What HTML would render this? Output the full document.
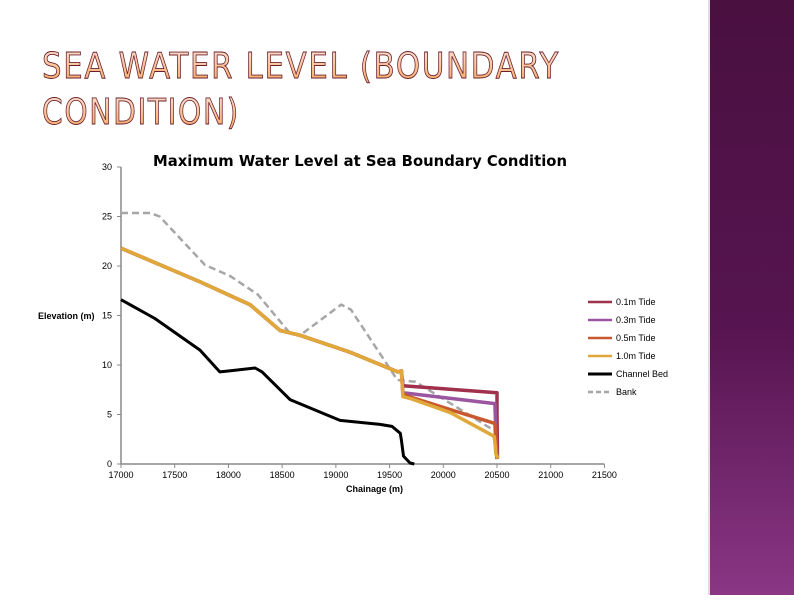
<!DOCTYPE html>
<html><head><meta charset="utf-8"><style>
body{margin:0;width:794px;height:595px;overflow:hidden;background:#fff;font-family:"Liberation Sans",sans-serif}
</style></head><body>
<svg width="794" height="595" xmlns="http://www.w3.org/2000/svg">
<defs>
<linearGradient id="tg" x1="0" y1="0" x2="0" y2="1"><stop offset="0" stop-color="#fde3d6"/><stop offset="1" stop-color="#f5a55a"/></linearGradient>
<linearGradient id="pg" x1="0" y1="0" x2="0" y2="1"><stop offset="0" stop-color="#4a1040"/><stop offset="0.55" stop-color="#561450"/><stop offset="1" stop-color="#8a3684"/></linearGradient>
</defs>
<rect x="708" y="0" width="86" height="595" fill="url(#pg)"/>
<rect x="708" y="0" width="2" height="595" fill="#e8d8e4"/>
<g font-family="'DejaVu Sans',sans-serif" font-size="36" fill="url(#tg)" stroke="#6a1e2e" stroke-width="0.9" letter-spacing="2">
<text x="42" y="78" textLength="518" lengthAdjust="spacingAndGlyphs">SEA WATER LEVEL (BOUNDARY</text>
<text x="42" y="124" textLength="198" lengthAdjust="spacingAndGlyphs">CONDITION)</text>
</g>
<text x="153" y="166" font-size="15.5" font-weight="bold" font-family="'DejaVu Sans',sans-serif" textLength="414" lengthAdjust="spacingAndGlyphs">Maximum Water Level at Sea Boundary Condition</text>
<g id="chart"></g>
</svg>
<script>
const xTicks=[17000,17500,18000,18500,19000,19500,20000,20500,21000,21500];
const yTicks=[0,5,10,15,20,25,30];
const seriesNames=["0.1m Tide","0.3m Tide","0.5m Tide","1.0m Tide","Channel Bed","Bank"];
const seriesColors=["#a0304c","#9a56a0","#c8582e","#e0a838","#000000","#a6a6a6"];
const upX=[17000,17735,18200,18480,18667,19130,19577,19610];
const upY=[21.8,18.4,16.1,13.5,13.0,11.3,9.3,9.4];
const tide01X=[19624,20500,20500,20505];
const tide01Y=[7.9,7.2,5.0,0.6];
const tide03X=[19624,20480,20490,20500];
const tide03Y=[7.2,6.1,3.0,0.6];
const tide05X=[19624,20063,20480,20490,20500];
const tide05Y=[7.0,5.5,4.1,2.0,0.5];
const tide10X=[19624,19700,20063,20473,20480,20490,20510];
const tide10Y=[6.8,6.6,5.2,2.8,2.2,1.0,0.6];
const bedX=[17000,17316,17735,17920,18010,18248,18313,18573,19039,19411,19523,19600,19610,19630,19690,19730];
const bedY=[16.6,14.7,11.5,9.3,9.4,9.7,9.3,6.5,4.4,4.0,3.8,3.1,2.4,0.8,0.1,0];
const bankX=[17000,17270,17360,17782,18015,18275,18573,18667,19050,19140,19572,19740,20085,20500];
const bankY=[25.35,25.35,25.0,20.1,19.0,17.1,13.2,13.0,16.1,15.6,8.5,8.3,6.0,3.2];
const X=v=>121+(v-17000)*0.10743;
const Y=v=>464-v*9.9;
const NS="http://www.w3.org/2000/svg";
const g=document.getElementById('chart');
function mk(t,a,p){const e=document.createElementNS(NS,t);for(const k in a)e.setAttribute(k,a[k]);(p||g).appendChild(e);return e;}
let e;
e=mk('line',{x1:121,y1:Y(30),x2:121,y2:464,stroke:'#888','stroke-width':1.5});


e=mk('line',{x1:121,y1:464,x2:X(21500),y2:464,stroke:'#888','stroke-width':1.5});


yTicks.forEach(v=>{
 mk('line',{x1:117,y1:Y(v),x2:121,y2:Y(v),stroke:'#888'});
 e=mk('text',{x:112,y:Y(v)+3,'text-anchor':'end','font-size':9});
 e.textContent=v;
 
 
});
xTicks.forEach(v=>{
 mk('line',{x1:X(v),y1:464,x2:X(v),y2:468,stroke:'#888'});
 e=mk('text',{x:X(v),y:478,'text-anchor':'middle','font-size':9});
 e.textContent=v;
 
 
});
e=mk('text',{x:38,y:319,'font-size':9,'font-weight':'bold'});e.textContent='Elevation (m)';


e=mk('text',{x:X(19360),y:492,'text-anchor':'middle','font-size':9,'font-weight':'bold'});e.textContent='Chainage (m)';


function pts(xs,ys){return xs.map((x,i)=>X(x).toFixed(1)+','+Y(ys[i]).toFixed(1)).join(' ');}
const series=[
 [upX.concat(tide01X),upY.concat(tide01Y)],
 [upX.concat(tide03X),upY.concat(tide03Y)],
 [upX.concat(tide05X),upY.concat(tide05Y)],
 [upX.concat(tide10X),upY.concat(tide10Y)],
 [bedX,bedY],[bankX,bankY]];
[5,4,0,1,2,3].forEach(i=>{
 const a={points:pts(series[i][0],series[i][1]),fill:'none',stroke:seriesColors[i],'stroke-width':i==5?2.5:(i==4?3:3.5),'stroke-linejoin':'round'};
 if(i==5)a['stroke-dasharray']='7,4';
 e=mk('polyline',a);
 
 
});
seriesNames.forEach((n,i)=>{
 const y=302+i*18;
 const a={x1:588,y1:y,x2:612,y2:y,stroke:seriesColors[i],'stroke-width':i==4?3:2.5};
 if(i==5)a['stroke-dasharray']='5,3';
 e=mk('line',a);
 
 
 e=mk('text',{x:616,y:y+3,'font-size':9});e.textContent=n;
 
 
});
</script>
</body></html>
